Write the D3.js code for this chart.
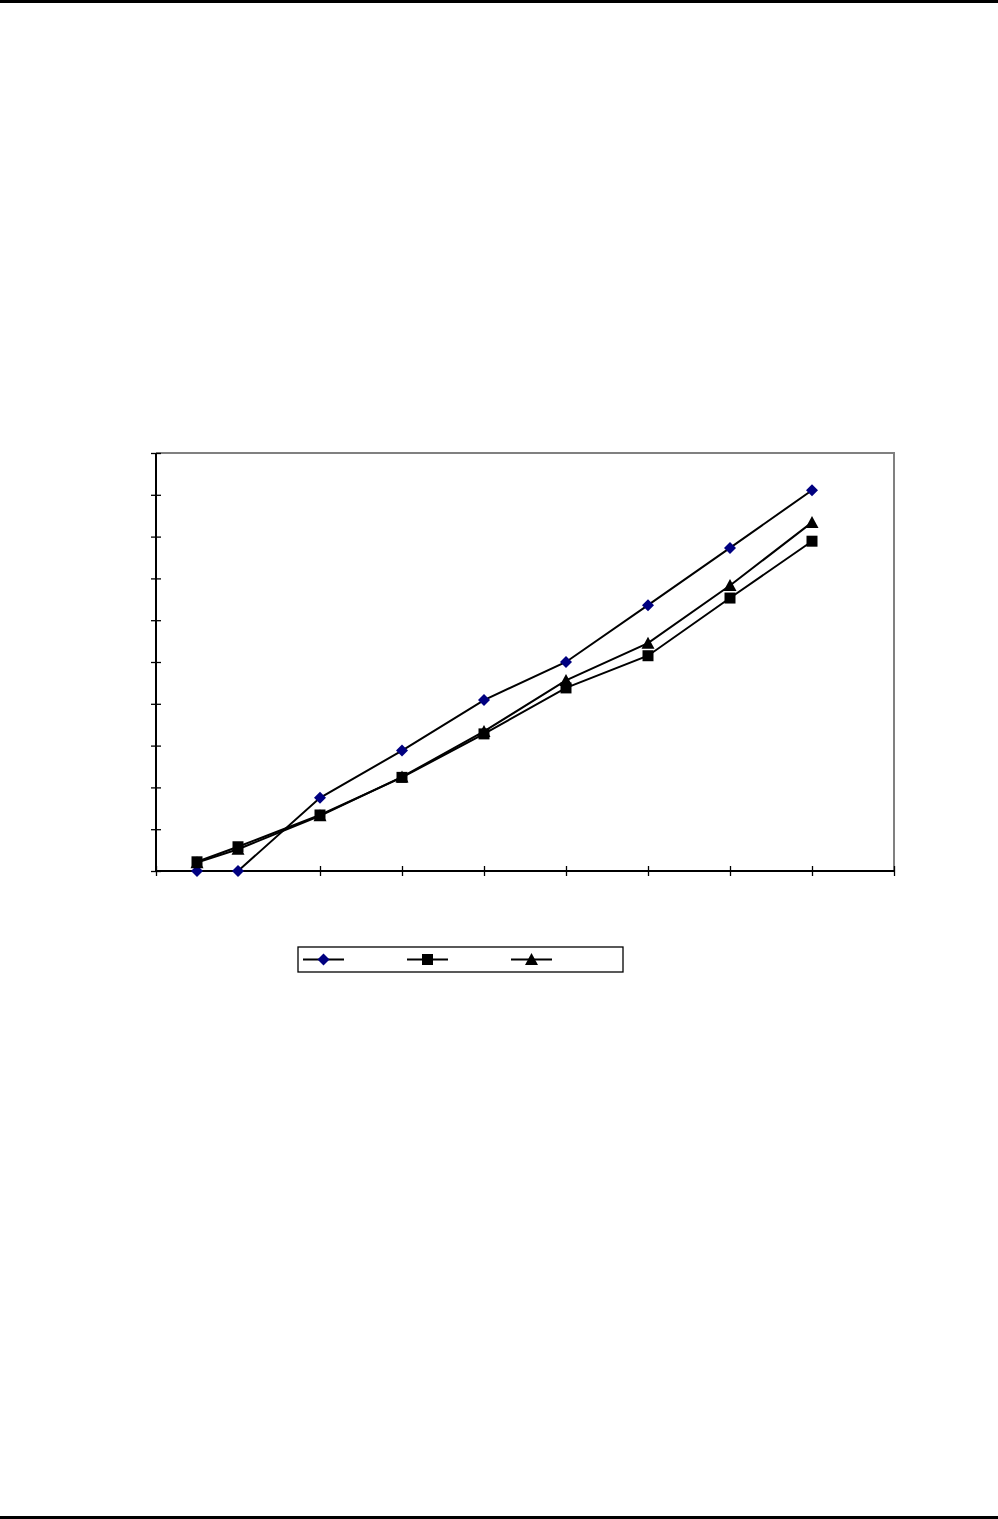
<!DOCTYPE html>
<html>
<head>
<meta charset="utf-8">
<script src="https://cdn.jsdelivr.net/npm/d3@7"></script>
<style>
  html, body { margin: 0; padding: 0; background: #fff; }
  svg { display: block; }
</style>
</head>
<body>
<svg id="chart"></svg>
<script>
// x positions of the samples
const xValues = [1, 2, 4, 6, 8, 10, 12, 14, 16]
// the three series
const seriesA = [0, 0, 17.5, 28.8, 40.9, 50.0, 63.6, 77.3, 91.1]
const seriesB = [2.2, 5.8, 13.4, 22.4, 32.8, 43.8, 51.5, 65.3, 78.9]
const seriesC = [2.0, 5.2, 13.2, 22.5, 33.4, 45.6, 54.5, 68.3, 83.4]
const seriesNames = ['Series 1', 'Series 2', 'Series 3']
const xTicks = d3.range(0, 19, 2)
const yTicks = d3.range(0, 101, 10)

const width = 998, height = 1519
const plot = {left: 156, top: 453, right: 894, bottom: 871}

const svg = d3.select('#chart')
  .attr('width', width)
  .attr('height', height)

// page rules top and bottom
svg.append('rect').attr('x', 0).attr('y', 0).attr('width', width).attr('height', 3).attr('fill', '#000')
svg.append('rect').attr('x', 0).attr('y', height - 3).attr('width', width).attr('height', 3).attr('fill', '#000')

const x = d3.scaleLinear().domain([0, 18]).range([plot.left, plot.right])
const y = d3.scaleLinear().domain([0, 100]).range([plot.bottom, plot.top])

// plot area border (grey top/right)
svg.append('path')
  .attr('d', `M${plot.left},${plot.top}H${plot.right}V${plot.bottom}`)
  .attr('fill', 'none')
  .attr('stroke', '#808080')
  .attr('stroke-width', 2)

const xAxis = svg.append('g')
  .attr('transform', `translate(0,${plot.bottom})`)
  .call(d3.axisBottom(x).tickValues(xTicks).tickSize(5).tickFormat(''))
xAxis.selectAll('.tick line').attr('y1', -5).attr('stroke-width', 1.3)
xAxis.select('.domain').attr('d', `M${plot.left},0H${plot.right}`).attr('stroke-width', 2)

const yAxis = svg.append('g')
  .attr('transform', `translate(${plot.left},0)`)
  .call(d3.axisLeft(y).tickValues(yTicks).tickSize(5).tickFormat(''))
yAxis.selectAll('.tick line').attr('x1', 5).attr('stroke-width', 1.3)
yAxis.select('.domain').attr('d', `M0,${plot.top}V${plot.bottom}`).attr('stroke-width', 2)

const diamond = 'M0,-6L6,0L0,6L-6,0Z'
const square = 'M-5.5,-5.5H5.5V5.5H-5.5Z'
const triangle = 'M0,-6.5L6.5,5.5H-6.5Z'

const series = [
  {name: seriesNames[0], values: seriesA, marker: diamond, fill: '#000080'},
  {name: seriesNames[1], values: seriesB, marker: square, fill: '#000'},
  {name: seriesNames[2], values: seriesC, marker: triangle, fill: '#000'}
]

const line = d3.line()
  .x((d, i) => x(xValues[i]))
  .y(d => y(d))

const groups = svg.selectAll('g.series')
  .data(series)
  .join('g')
  .classed('series', true)

groups.append('path')
  .attr('d', d => line(d.values))
  .attr('fill', 'none')
  .attr('stroke', '#000')
  .attr('stroke-width', 2)

groups.each(function(s) {
  d3.select(this).selectAll('path.marker')
    .data(s.values)
    .join('path')
    .classed('marker', true)
    .attr('d', s.marker)
    .attr('transform', (d, i) => `translate(${x(xValues[i])},${y(d)})`)
    .attr('fill', s.fill)
})

// legend
const legend = svg.append('g').attr('transform', 'translate(298,947)')
legend.append('rect')
  .attr('width', 325).attr('height', 25)
  .attr('fill', '#fff').attr('stroke', '#000').attr('stroke-width', 1.3)

const entries = legend.selectAll('g.entry')
  .data(series)
  .join('g')
  .classed('entry', true)
  .attr('transform', (d, i) => `translate(${5 + i * 104},12.5)`)
entries.append('line')
  .attr('x1', 0).attr('x2', 41)
  .attr('stroke', '#000').attr('stroke-width', 2)
entries.append('path')
  .attr('d', d => d.marker)
  .attr('transform', 'translate(20.5,0)')
  .attr('fill', d => d.fill)
</script>
</body>
</html>
